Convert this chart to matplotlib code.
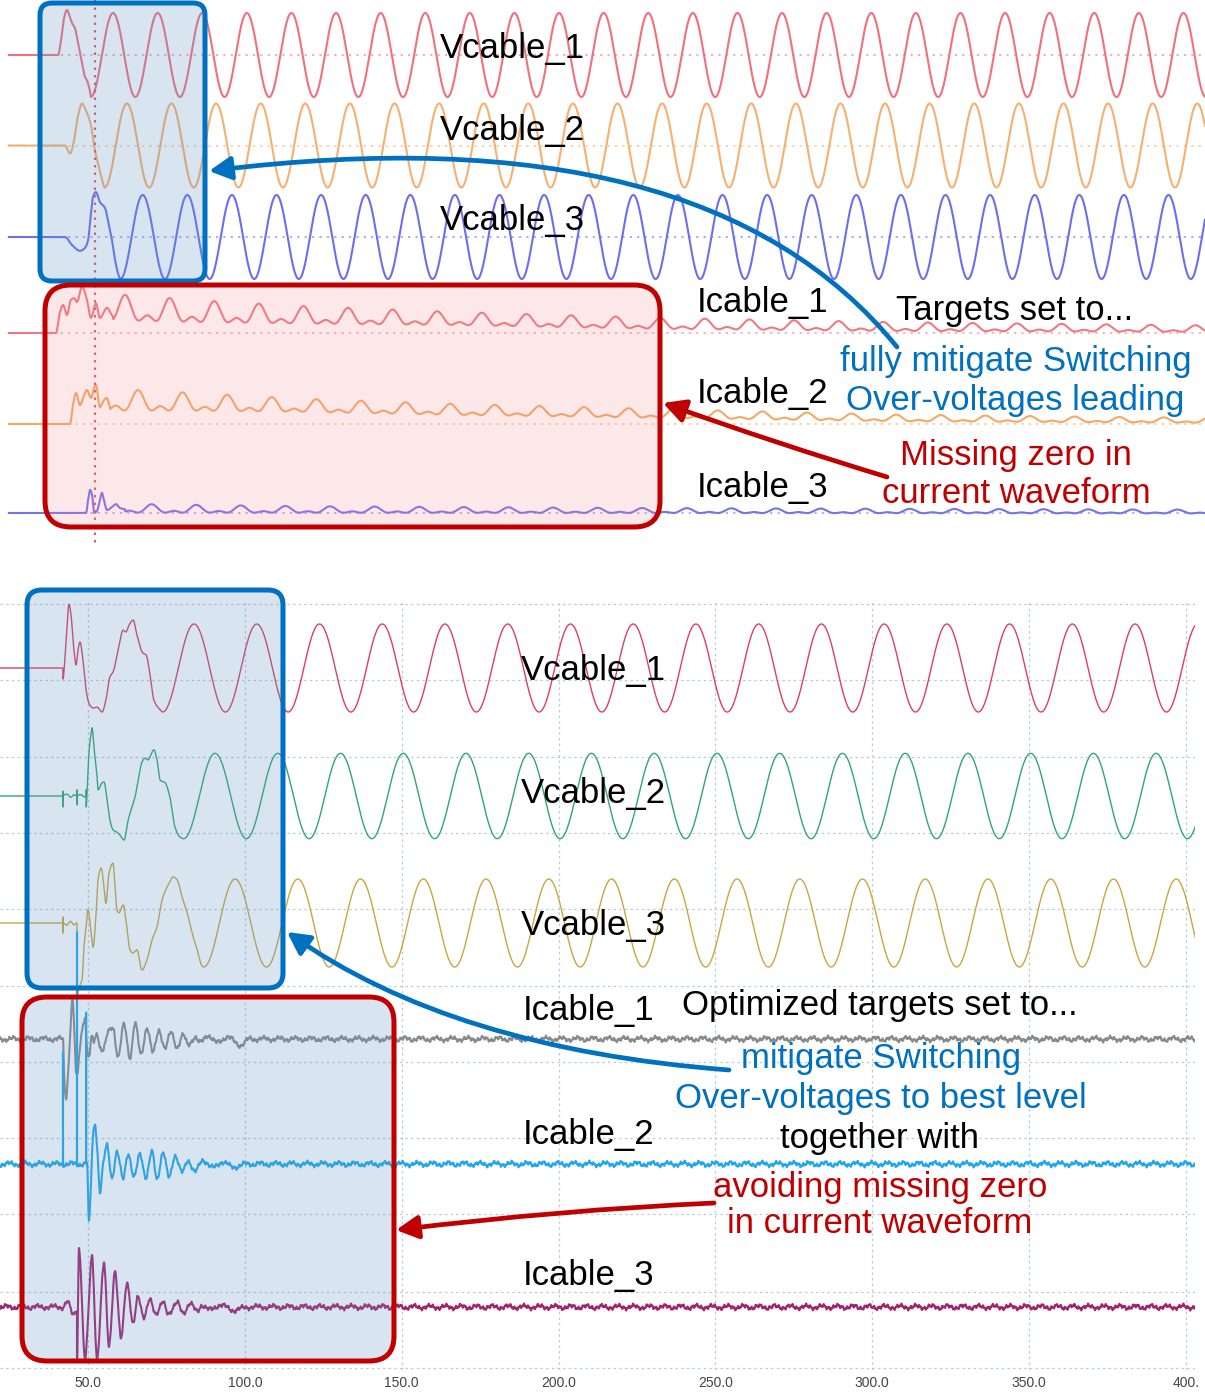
import numpy as np
import matplotlib
matplotlib.use("Agg")
import matplotlib.pyplot as plt
from matplotlib.patches import FancyBboxPatch, FancyArrowPatch
from matplotlib.path import Path

plt.rcParams['font.family'] = ['Liberation Sans', 'DejaVu Sans']

# ---------------------------------------------------------------- DATA
# Upper recording (time in ms, values in per-unit)
top_v1_t = [4.5, 26.0, 27.4, 28.7, 30.0, 31.4, 32.3, 33.6, 35.0, 36.8, 38.1, 39.0, 40.4, 40.8]
top_v1_v = [0, 0, 0.36, 0.88, 1.07, 0.90, 0.76, 0.64, 0.29, -0.19, -0.52, -0.60, -0.88, -1.0]
top_v2_t = [4.5, 29.1, 31.4, 33.2, 35.0, 36.8, 38.1, 39.5, 40.8, 42.6, 44.8, 46.2, 46.9]
top_v2_v = [0, 0, -0.19, 0.12, 0.71, 1.0, 0.88, 0.71, 0.48, -0.12, -0.6, -0.9, -1.0]
top_v3_t = [4.5, 29.1, 32.3, 35.9, 38.1, 39.5, 40.8, 41.7, 43.0, 44.8, 47.1, 48.4, 50.2, 51.6, 53.0, 54.0]
top_v3_v = [0, 0, -0.19, -0.33, -0.26, -0.07, 0.57, 0.95, 1.07, 0.83, 0.69, 0.40, -0.07, -0.55, -0.88, -1.0]
top_v_amp = [1.0, 1.0, 1.0]
top_v_tpeak = [50.7, 56.9, 64.0]
period_ms = 20.0

top_i1_t = [4.5, 25.1, 26.9, 28.3, 30.0, 31.8, 33.2, 34.5, 36.8, 39.0, 40.8, 43.0, 44.8, 48.0, 50.7]
top_i1_v = [0, 0, 0.5, 0.67, 0.43, 0.79, 0.83, 0.74, 1.10, 0.79, 0.36, 0.71, 0.36, 0.6, 0.40]
top_i2_t = [4.5, 31.4, 32.7, 34.1, 35.9, 37.7, 39.0, 40.8, 42.2, 43.0, 44.8, 46.6, 48.0, 49.3]
top_i2_v = [0, 0, 0.45, 0.74, 0.45, 0.69, 0.81, 0.62, 0.86, 0.93, 0.40, 0.57, 0.62, 0.42]
top_i3_t = [4.5, 38.6, 39.5, 40.4, 41.3, 42.2, 43.5, 44.8, 45.7, 46.6, 48.0, 50.2, 52.0, 53.8, 56.1]
top_i3_v = [0, 0, 0.31, 0.55, 0.43, 0, 0.05, 0.31, 0.48, 0.31, 0.07, 0.14, 0.21, 0.12, 0.09]
top_i1_env_t = [50.7, 89.7, 134.5, 201.8, 296.0, 403.6, 540.4]
top_i1_dc = [0.52, 0.44, 0.37, 0.30, 0.19, 0.12, 0.08]
top_i1_amp = [0.24, 0.20, 0.16, 0.12, 0.10, 0.08, 0.06]
top_i2_env_t = [49.3, 89.7, 134.5, 201.8, 296.0, 403.6, 540.4]
top_i2_dc = [0.50, 0.46, 0.40, 0.31, 0.22, 0.12, 0.07]
top_i2_amp = [0.20, 0.16, 0.12, 0.10, 0.08, 0.06, 0.045]
top_i3_env_t = [56.1, 134.5, 296.0, 540.4]
top_i3_dc = [0.08, 0.06, 0.04, 0.02]
top_i3_amp = [0.08, 0.06, 0.045, 0.035]
top_i_tpeak = [56.1, 61.9, 48.0]
current_harmonics = [1.0, 0.7]
top_marker_t = 42.6

# Lower recording
bot_v1_t = [21.9, 42.0, 42.02, 43.0, 43.95, 44.6, 45.5, 46.2, 46.8, 47.45, 48.4, 49.4, 50.3, 51.6,
            52.9, 54.5, 55.7, 57.0, 58.0, 59.6, 61.2, 62.1, 63.1, 64.4, 65.6, 67.5, 68.5, 69.8,
            71.0, 73.0, 73.8]
bot_v1_v = [0, 0, -0.25, 0.64, 1.45, 1.20, 0.41, 0.07, 0.41, 0.59, 0.18, -0.5, -0.8, -0.91,
            -0.89, -1.0, -0.73, -0.2, -0.09, 0.41, 0.86, 0.82, 0.98, 1.09, 0.75, 0.34, 0.30, -0.16,
            -0.73, -0.95, -1.0]
bot_v2_t = [21.9, 42.0, 42.02, 42.04, 42.06, 43.3, 44.5, 45.6, 46.48, 46.5, 46.52, 46.54, 47.8,
            48.8, 49.38, 49.4, 49.42, 49.7, 50.3, 51.0, 51.3, 51.9, 52.9, 53.2, 54.5, 55.1, 56.1,
            57.0, 58.0, 59.2, 60.2, 61.5, 62.8, 64.0, 65.0, 66.0, 67.2, 68.2, 69.1, 71.0, 72.0,
            73.0, 74.6, 76.1, 77.7, 79.3, 80.5]
bot_v2_v = [0, 0, 0.11, -0.25, 0, 0.04, -0.03, 0.03, 0, 0.14, -0.2, 0, 0.03,
            -0.02, 0, 0.14, -0.25, 0.07, 0.98, 1.43, 1.55, 1.11, 0.43, 0.14, 0.30, 0.32, -0.09,
            -0.55, -0.77, -0.82, -0.89, -1.0, -0.55, -0.25, -0.02, 0.36, 0.77, 0.86, 0.82, 1.05, 0.82,
            0.36, 0.30, -0.02, -0.70, -0.93, -0.97]
bot_v3_t = [21.9, 42.0, 42.02, 42.04, 42.06, 43.2, 44.4, 45.5, 46.48, 46.5, 47.45, 48.1, 48.7,
            49.4, 50.0, 51.0, 51.6, 52.6, 53.2, 54.2, 55.1, 55.7, 56.7, 58.0, 58.6, 59.2, 59.9,
            61.2, 62.1, 63.4, 64.3, 65.6, 67.2, 68.8, 70.4, 72.0, 73.6, 75.2, 76.1, 77.1, 78.4,
            80.0, 81.6, 83.2, 84.8, 86.3, 86.9]
bot_v3_v = [0, 0, 0.14, -0.23, 0, -0.05, 0.04, -0.04, 0, -1.64, -1.41, -1.30, -0.55,
            -0.09, 0.30, -0.23, -0.55, 0.23, 0.98, 1.25, 0.82, 0.45, 1.14, 1.36, 0.82, 0.30, 0.23,
            0.41, 0.07, -0.61, -0.68, -0.61, -1.07, -0.84, -0.39, -0.09, 0.52, 0.82, 0.93, 1.05, 0.98,
            0.59, 0.23, -0.23, -0.61, -0.97, -1.0]
bot_v_amp = [1.0, 0.97, 1.0]
bot_v_tpeak = [83.8, 90.5, 96.9]

bot_i1_t = [21.9, 42.03, 42.35, 42.99, 43.63, 44.49, 45.0, 45.54, 46.18, 46.59, 47.13, 48.09,
            49.05, 49.68, 50.32, 51.28, 51.92, 52.87, 53.83, 54.78, 56.38, 57.97, 59.57, 61.48,
            63.39, 64.99, 66.9, 68.81, 70.72, 72.64, 74.55, 76.46, 78.37, 80.29, 81.88, 84.11,
            85.71, 88.26, 91.13, 94.31, 98.46, 101.6]
bot_i1_v = [0, 0, -0.77, -1.32, -0.77, 0.36, 0.89, 0.36, -0.77, -0.86, -0.41, 0.20,
            0.5, -0.25, -0.41, 0.05, -0.07, 0.14, -0.18, -0.25, 0.14, 0.27, -0.41, 0.32,
            -0.41, 0.36, -0.36, 0.27, -0.32, 0.20, -0.20, 0.14, -0.18, 0.09, -0.14, 0.05,
            -0.09, 0.09, -0.09, 0.05, -0.14, 0.0]
bot_i2_t = [21.9, 42.0, 42.02, 42.04, 46.48, 46.5, 46.52, 49.38, 49.4, 49.42, 49.68, 50.32,
            50.86, 51.5, 52.23, 52.97, 53.83, 54.78, 56.06, 57.65, 59.25, 61.16, 62.75, 64.67,
            66.58, 68.49, 70.4, 72.0, 73.91, 75.82, 77.74, 79.97, 81.88, 84.11, 86.66, 89.85,
            92.72, 96.2, 100.7]
bot_i2_v = [0, 0, 2.59, 0, 0, 5.32, 0, 0, 3.43, 0, 0.02, -1.34,
            -0.59, 0.55, 0.93, 0.32, -0.64, -0.07, 0.43, -0.30, 0.25, -0.32, 0.25, -0.32,
            0.25, -0.32, 0.27, -0.32, 0.25, -0.30, 0.20, -0.20, 0.09, -0.18, 0.09, -0.09,
            0.05, -0.07, 0.0]
bot_i3_t = [21.9, 42.0, 43.31, 44.26, 45.22, 46.18, 46.48, 46.5, 47.13, 49.05, 51.28, 52.87,
            55.1, 56.7, 58.6, 60.5, 62.4, 64.35, 65.94, 67.85, 69.77, 71.68, 73.91, 75.5, 78.37,
            80.29, 82.52, 84.75, 86.34, 88.9, 92.1, 96.2, 101.6]
bot_i3_v = [0, 0, 0.11, 0, -0.18, -0.07, -0.07, -1.2, 1.34, -1.2, 1.18, -1.2,
            1.0, -0.86, 0.77, -0.68, 0.55, -0.41, 0.27, -0.25, 0.16, -0.14, 0.09, -0.14, 0.09,
            -0.14, 0.09, -0.11, 0.05, -0.07, 0.05, -0.07, 0.0]
ripple_amp = [0.035, 0.025, 0.02]
ripple_period = [5.0, 1.45, 0.62]

tick_vals = [50, 100, 150, 200, 250, 300, 350, 400]
tick_labels = ["50.0", "100.0", "150.0", "200.0", "250.0", "300.0", "350.0", "400."]

# ---------------------------------------------------------------- helpers
W, H = 1205, 1393
fig = plt.figure(figsize=(W / 100, H / 100), dpi=100)


def px_axes(x0, y0, x1, y1):
    return fig.add_axes([x0 / W, 1 - y1 / H, (x1 - x0) / W, (y1 - y0) / H])


def pchip(xk, yk, x):
    xk = np.asarray(xk, float)
    yk = np.asarray(yk, float)
    h = np.diff(xk)
    d = np.diff(yk) / h
    m = np.zeros_like(yk)
    for i in range(1, len(xk) - 1):
        if d[i - 1] * d[i] > 0:
            w1 = 2 * h[i] + h[i - 1]
            w2 = h[i] + 2 * h[i - 1]
            m[i] = (w1 + w2) / (w1 / d[i - 1] + w2 / d[i])
    idx = np.clip(np.searchsorted(xk, x, side='right') - 1, 0, len(h) - 1)
    s = (x - xk[idx]) / h[idx]
    return ((2 * s**3 - 3 * s**2 + 1) * yk[idx] + (s**3 - 2 * s**2 + s) * h[idx] * m[idx]
            + (-2 * s**3 + 3 * s**2) * yk[idx + 1] + (s**3 - s**2) * h[idx] * m[idx + 1])


def voltage(tb, kt, kv, amp, tp):
    t = np.union1d(tb, kt)
    v = amp * np.cos(2 * np.pi * (t - tp) / period_ms)
    m = t <= kt[-1]
    v[m] = pchip(kt, kv, t[m])
    return t, v


def current_top(tb, kt, kv, et, edc, eamp, tp):
    t = np.union1d(tb, kt)
    th = 2 * np.pi * (t - tp) / period_ms
    shape = sum(w * np.cos((k + 1) * th) for k, w in enumerate(current_harmonics))
    v = np.interp(t, et, edc) + np.interp(t, et, eamp) * shape
    m = t <= kt[-1]
    v[m] = pchip(kt, kv, t[m])
    return t, v


def current_bot(tb, kt, kv, ph):
    t = np.union1d(tb, kt)
    v = np.zeros_like(t)
    m = t <= kt[-1]
    v[m] = pchip(kt, kv, t[m])
    for a, p, k in zip(ripple_amp, ripple_period, range(3)):
        v += a * np.sin(2 * np.pi * t / p + ph * (k + 1))
    return t, v


# ---------------------------------------------------------------- top panel
ax_t = px_axes(0, 0, 1205, 545)
ax_t.set_xlim(0, 1205 / 2.23)
ax_t.set_ylim(545, 0)
ax_t.axis('off')
tb = np.arange(4.0, 540.4, 0.05)
gain_t = 42
top_v_base = [55, 145.5, 237]
top_i_base = [333, 424, 513]
top_v_col = ['#f0707c', '#f6b070', '#6d6df0']
top_i_col = ['#f27880', '#f6a862', '#7373ee']
for base, col in zip(top_v_base + top_i_base, top_v_col + top_i_col):
    ax_t.plot([4, 540], [base, base], color=col, lw=1.4, alpha=0.55, ls=(0, (1.2, 2.6)))
for kt, kv, amp, tp, base, col in zip([top_v1_t, top_v2_t, top_v3_t], [top_v1_v, top_v2_v, top_v3_v],
                                      top_v_amp, top_v_tpeak, top_v_base, top_v_col):
    t, v = voltage(tb, kt, kv, amp, tp)
    ax_t.plot(t, base - gain_t * v, color=col, lw=1.5)
for kt, kv, et, edc, eamp, tp, base, col in zip(
        [top_i1_t, top_i2_t, top_i3_t], [top_i1_v, top_i2_v, top_i3_v],
        [top_i1_env_t, top_i2_env_t, top_i3_env_t], [top_i1_dc, top_i2_dc, top_i3_dc],
        [top_i1_amp, top_i2_amp, top_i3_amp], top_i_tpeak, top_i_base, top_i_col):
    t, v = current_top(tb, kt, kv, et, edc, eamp, tp)
    ax_t.plot(t, base - gain_t * v, color=col, lw=1.5)
ax_t.plot([top_marker_t, top_marker_t], [0, 545], color='#e05a6a', lw=1.5, ls=(0, (1.2, 2.4)))

# ---------------------------------------------------------------- bottom panel
ax_b = px_axes(0, 600, 1195, 1370)
x_left = 21.95
ax_b.set_xlim(x_left, x_left + 1195 / 3.137)
ax_b.set_ylim(1370, 600)
for s in ax_b.spines.values():
    s.set_visible(False)
ax_b.set_xticks(tick_vals)
ax_b.set_xticklabels(tick_labels)
ax_b.set_yticks([604, 680, 757, 833, 909, 986, 1062, 1138, 1214, 1292, 1368])
ax_b.tick_params(axis='y', left=False, labelleft=False)
ax_b.tick_params(axis='x', length=0, pad=4, labelsize=10, labelcolor='#444444')
ax_b.grid(True, color='#b7cfdb', lw=0.9, ls=(0, (2, 2.5)))
ax_b.set_axisbelow(True)
bb = np.arange(x_left, 403.0, 0.04)
gain_b = 44
bot_v_base = [668, 796, 923]
bot_i_base = [1039, 1164, 1307]
bot_v_col = ['#dd3f5e', '#2fa86e', '#c9a640']
bot_i_col = ['#8a8a8a', '#1fa8ec', '#a4236f']
for kt, kv, amp, tp, base, col in zip([bot_v1_t, bot_v2_t, bot_v3_t], [bot_v1_v, bot_v2_v, bot_v3_v],
                                      bot_v_amp, bot_v_tpeak, bot_v_base, bot_v_col):
    t, v = voltage(bb, kt, kv, amp, tp)
    ax_b.plot(t, base - gain_b * v, color=col, lw=1.0)
for kt, kv, ph, base, col in zip([bot_i1_t, bot_i2_t, bot_i3_t], [bot_i1_v, bot_i2_v, bot_i3_v],
                                 [0.3, 1.7, 2.9], bot_i_base, bot_i_col):
    t, v = current_bot(bb, kt, kv, ph)
    ax_b.plot(t, base - gain_b * v, color=col, lw=1.5)

# ---------------------------------------------------------------- overlay
ov = fig.add_axes([0, 0, 1, 1])
ov.set_xlim(0, W)
ov.set_ylim(H, 0)
ov.axis('off')
ov.patch.set_alpha(0)

BLUE = '#0070c0'
RED = '#c00000'
fill_blue = (0.40, 0.59, 0.78, 0.25)
fill_red = (0.94, 0.55, 0.58, 0.20)


def box(x0, y0, x1, y1, r, ec, fc):
    ov.add_patch(FancyBboxPatch((x0, y0), x1 - x0, y1 - y0,
                                boxstyle=f"round,pad=0,rounding_size={r}",
                                fc=fc, ec=ec, lw=3.6))


box(40, 3, 205, 281, 12, BLUE, fill_blue)
box(45, 285, 660, 527, 26, RED, fill_red)
box(27, 590, 283, 988, 15, BLUE, fill_blue)
box(22, 997, 394, 1361, 25, RED, fill_blue)


def arrow(p0, p1, p2, col):
    path = Path([p0, p1, p2], [Path.MOVETO, Path.CURVE3, Path.CURVE3])
    ov.add_patch(FancyArrowPatch(path=path, arrowstyle='-|>,head_length=0.95,head_width=0.5',
                                 mutation_scale=14, lw=3.4, color=col,
                                 shrinkA=0, shrinkB=0, zorder=6))


arrow((897, 347), (705, 110), (209, 171), BLUE)
arrow((887, 477), (775, 443), (663, 403), RED)
arrow((729, 1070), (452, 1049), (287, 932), BLUE)
arrow((714, 1203), (560, 1210), (396, 1230), RED)

FS = 25
for s, x, y in [("Vcable_1", 440, 58), ("Vcable_2", 440, 140), ("Vcable_3", 440, 230),
                ("Icable_1", 697, 312), ("Icable_2", 697, 403), ("Icable_3", 697, 497),
                ("Vcable_1", 521, 680), ("Vcable_2", 521, 803), ("Vcable_3", 521, 935),
                ("Icable_1", 523, 1020), ("Icable_2", 523, 1144), ("Icable_3", 523, 1285)]:
    ov.text(x, y, s, fontsize=FS, color='black', ha='left', va='baseline', zorder=7)

for s, x, y, c in [("Targets set to...", 1015, 320, 'black'),
                   ("fully mitigate Switching", 1016, 371, BLUE),
                   ("Over-voltages leading", 1015, 410, BLUE),
                   ("Missing zero in", 1016, 465, RED),
                   ("current waveform", 1016, 503, RED),
                   ("Optimized targets set to...", 880, 1015, 'black'),
                   ("mitigate Switching", 881, 1068, BLUE),
                   ("Over-voltages to best level", 881, 1108, BLUE),
                   ("together with", 880, 1148, 'black'),
                   ("avoiding missing zero", 880, 1197, RED),
                   ("in current waveform", 880, 1233, RED)]:
    ov.text(x, y, s, fontsize=FS, color=c, ha='center', va='baseline', zorder=7)

fig.savefig("out.png", dpi=100)
